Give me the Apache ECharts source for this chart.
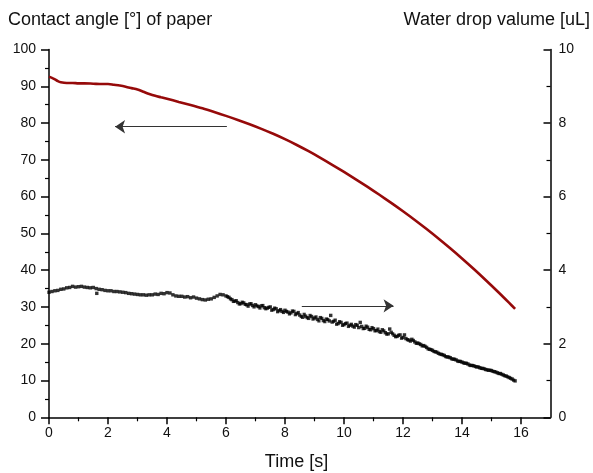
<!DOCTYPE html>
<html>
<head>
<meta charset="utf-8">
<script src="https://cdn.jsdelivr.net/npm/echarts@6/dist/echarts.min.js"></script>
<style>
html,body{margin:0;padding:0;background:#fff;}
#chart{width:593px;height:473px;}
</style>
</head>
<body>
<div id="chart"></div>
<script>
// ---- data ----
const leftTitle = 'Contact angle [°] of paper';
const rightTitle = 'Water drop valume [uL]';
const xTitle = 'Time [s]';
const xMajorLabels = [0, 2, 4, 6, 8, 10, 12, 14, 16];
const xMinorTicks = [1, 3, 5, 7, 9, 11, 13, 15];

// contact angle (left axis) [time s, angle deg]
const contactAngle = [
  [0,92.6],[0.1,92.3],[0.2,91.9],[0.3,91.4],[0.4,91.1],[0.6,90.9],[0.8,90.9],[1.0,90.8],
  [1.2,90.8],[1.5,90.7],[1.8,90.6],[2.0,90.6],[2.2,90.4],[2.4,90.2],[2.6,89.9],[2.8,89.5],
  [3.0,89.1],[3.2,88.5],[3.4,87.9],[3.6,87.4],[3.8,87.0],[4.0,86.6],[4.4,85.75],[4.8,84.9],
  [5.2,84.0],[5.6,83.0],[6.0,81.95],[6.4,80.85],[6.8,79.68],[7.2,78.43],[7.6,77.08],[8.0,75.62],
  [8.4,74.04],[8.8,72.34],[9.2,70.54],[9.6,68.66],[10.0,66.71],[10.4,64.70],[10.8,62.63],[11.2,60.50],
  [11.6,58.30],[12.0,56.02],[12.4,53.65],[12.8,51.18],[13.2,48.61],[13.6,45.94],[14.0,43.17],[14.4,40.30],
  [14.8,37.33],[15.2,34.26],[15.6,31.09],[15.8,29.47]
];

// water drop volume (right axis) [time s, volume uL]
const dropVolume = [
  [0.0,3.40],[0.1,3.42],[0.2,3.44],[0.3,3.45],[0.4,3.48],[0.5,3.49],[0.6,3.52],[0.7,3.53],
  [0.8,3.56],[0.9,3.54],[1.0,3.55],[1.1,3.56],[1.2,3.54],[1.3,3.53],[1.4,3.52],[1.5,3.53],
  [1.6,3.50],[1.62,3.37],[1.7,3.48],[1.8,3.47],[1.9,3.45],[2.0,3.44],[2.1,3.44],[2.2,3.42],
  [2.3,3.42],[2.4,3.41],[2.5,3.40],[2.6,3.39],[2.7,3.37],[2.8,3.36],[2.9,3.35],[3.0,3.34],
  [3.1,3.33],[3.2,3.33],[3.3,3.32],[3.4,3.33],[3.5,3.33],[3.6,3.35],[3.7,3.34],[3.8,3.37],
  [3.9,3.36],[4.0,3.39],[4.1,3.38],[4.2,3.33],[4.3,3.30],[4.4,3.29],[4.5,3.29],[4.6,3.27],
  [4.7,3.28],[4.8,3.25],[4.9,3.27],[5.0,3.24],[5.1,3.22],[5.2,3.20],[5.3,3.19],[5.4,3.21],
  [5.5,3.22],[5.6,3.26],[5.7,3.30],[5.8,3.34],[5.9,3.33],[6.0,3.30],[6.1,3.26],[6.2,3.20],
  [6.3,3.16],[6.4,3.12],[6.5,3.09],[6.6,3.11],[6.7,3.06],[6.8,3.08],[6.9,3.04],[7.0,3.06],
  [7.1,3.01],[7.2,3.03],[7.3,2.98],[7.4,2.97],[7.5,3.00],[7.6,2.93],[7.7,2.95],[7.8,2.90],
  [7.9,2.88],[8.0,2.91],[8.1,2.86],[8.2,2.84],[8.3,2.88],[8.4,2.82],[8.5,2.78],[8.6,2.72],
  [8.7,2.75],[8.8,2.69],[8.9,2.74],[9.0,2.70],[9.1,2.66],[9.2,2.71],[9.3,2.63],[9.4,2.67],
  [9.5,2.62],[9.55,2.77],[9.6,2.59],[9.7,2.64],[9.8,2.55],[9.9,2.58],[10.0,2.52],[10.1,2.56],
  [10.2,2.50],[10.3,2.48],[10.4,2.52],[10.5,2.44],[10.55,2.58],[10.6,2.47],[10.7,2.42],[10.8,2.45],
  [10.9,2.38],[11.0,2.41],[11.1,2.36],[11.2,2.33],[11.3,2.38],[11.4,2.30],[11.5,2.27],[11.55,2.40],
  [11.6,2.31],[11.7,2.23],[11.8,2.20],[11.9,2.24],[12.0,2.17],[12.05,2.24],[12.1,2.14],[12.2,2.10],
  [12.3,2.12],[12.4,2.05],[12.5,2.02],[12.6,1.98],[12.7,1.95],[12.8,1.90],[12.9,1.85],[13.0,1.82],
  [13.1,1.78],[13.2,1.74],[13.3,1.71],[13.4,1.68],[13.5,1.64],[13.6,1.62],[13.7,1.58],[13.8,1.56],
  [13.9,1.52],[14.0,1.50],[14.1,1.47],[14.2,1.45],[14.3,1.41],[14.4,1.40],[14.5,1.37],[14.6,1.35],
  [14.7,1.33],[14.8,1.30],[14.9,1.28],[15.0,1.27],[15.1,1.24],[15.2,1.21],[15.3,1.19],[15.4,1.15],
  [15.5,1.12],[15.6,1.08],[15.7,1.04],[15.8,0.99]
];
// additional interleaved readings of the scattered band
const dropVolumeExtra = [
  [6.05,3.28],[6.15,3.22],[6.25,3.15],[6.35,3.17],[6.45,3.08],[6.55,3.13],[6.65,3.07],[6.75,3.02],
  [6.85,3.09],[6.95,3.00],[7.05,3.03],[7.15,2.97],[7.25,3.04],[7.35,2.95],[7.45,2.99],[7.55,2.91],
  [7.65,2.97],[7.75,2.87],[7.85,2.93],[7.95,2.85],[8.05,2.88],[8.15,2.81],[8.25,2.89],[8.35,2.79],
  [8.45,2.85],[8.55,2.74],[8.65,2.80],[8.75,2.71],[8.85,2.77],[8.95,2.67],[9.05,2.73],[9.15,2.62],
  [9.25,2.69],[9.35,2.60],[9.45,2.66],[9.65,2.61],[9.75,2.53],[9.85,2.60],[9.95,2.50],[10.05,2.55],
  [10.15,2.47],[10.25,2.53],[10.35,2.45],[10.45,2.50],[10.65,2.41],[10.75,2.48],[10.85,2.39],[10.95,2.44],
  [11.05,2.35],[11.15,2.40],[11.25,2.31],[11.35,2.35],[11.45,2.26],[11.65,2.27],[11.75,2.19],[11.85,2.23],
  [11.95,2.15],[12.15,2.11],[12.25,2.07],[12.35,2.09],[12.45,2.01],[12.55,2.00],[12.65,1.94],[12.75,1.93],
  [12.85,1.86],[12.95,1.84],[13.05,1.79],[13.15,1.77],[13.25,1.72],[13.35,1.70],[13.45,1.65],[13.55,1.64],
  [13.65,1.59],[13.75,1.58],[13.85,1.53],[13.95,1.52],[14.05,1.48],[14.15,1.47],[14.25,1.42],[14.35,1.41],
  [14.45,1.38],[14.55,1.37],[14.65,1.33],[14.75,1.32],[14.85,1.29],[14.95,1.28],[15.05,1.25],[15.15,1.23],
  [15.25,1.19],[15.35,1.17],[15.45,1.13],[15.55,1.10],[15.65,1.06],[15.75,1.01]
];

// annotation arrows: [from, to] in data coords
const leftArrow = [[6.03, 79.0], [2.24, 79.0]];   // left axis units
const rightArrow = [[8.57, 3.03], [11.68, 3.03]]; // right axis units

// ---- chart ----
const FONT = '"Liberation Sans", Arial, Helvetica, sans-serif';
const TXT = '#111';
const chart = echarts.init(document.getElementById('chart'), null, {renderer: 'canvas'});

const axisLineStyle = {color: '#000', width: 1.5};

chart.setOption({
  animation: false,
  backgroundColor: '#fff',
  grid: {left: 49, right: 42.5, top: 49.5, bottom: 55.7, containLabel: false, outerBoundsMode: 'none'},
  xAxis: [
    {
      type: 'value', min: 0, max: 17, interval: 1, position: 'bottom',
      axisLine: {show: true, onZero: false, lineStyle: axisLineStyle},
      axisTick: {show: true, length: 7, lineStyle: {color: '#000', width: 1.5}, customValues: xMajorLabels},
      axisLabel: {show: true, margin: 9, fontSize: 14, color: TXT, fontFamily: FONT, customValues: xMajorLabels},
      splitLine: {show: false}
    },
    {
      type: 'value', min: 0, max: 17, interval: 1, position: 'bottom',
      axisLine: {show: false, onZero: false},
      axisTick: {show: true, length: 4, lineStyle: {color: '#000', width: 1.2}, customValues: xMinorTicks},
      axisLabel: {show: false},
      splitLine: {show: false}
    }
  ],
  yAxis: [
    {
      type: 'value', min: 0, max: 100, interval: 10, position: 'left',
      axisLine: {show: true, onZero: false, lineStyle: axisLineStyle},
      axisTick: {show: true, length: 8, lineStyle: {color: '#000', width: 1.5}},
      minorTick: {show: true, splitNumber: 2, length: 4, lineStyle: {color: '#000', width: 1.2}},
      axisLabel: {margin: 13, fontSize: 14, color: TXT, fontFamily: FONT},
      splitLine: {show: false}
    },
    {
      type: 'value', min: 0, max: 10, interval: 2, position: 'right',
      axisLine: {show: true, onZero: false, lineStyle: axisLineStyle},
      axisTick: {show: true, inside: true, length: 7, lineStyle: {color: '#000', width: 1.5}},
      minorTick: {show: true, splitNumber: 2, length: 4, lineStyle: {color: '#000', width: 1.2}},
      axisLabel: {margin: 8, fontSize: 14, color: TXT, fontFamily: FONT},
      splitLine: {show: false}
    }
  ],
  series: [
    {
      type: 'line', name: 'Contact angle', xAxisIndex: 0, yAxisIndex: 0,
      data: contactAngle, showSymbol: false, smooth: 0.3,
      lineStyle: {color: '#960a0a', width: 2.6},
      itemStyle: {color: '#960a0a'},
      z: 3,
      markLine: {
        silent: true, symbol: ['none', 'arrow'], symbolSize: 10, label: {show: false},
        lineStyle: {color: '#333', width: 1.2, type: 'solid'},
        data: [[{coord: leftArrow[0]}, {coord: leftArrow[1]}]]
      }
    },
    {
      type: 'scatter', name: 'Water drop volume', xAxisIndex: 0, yAxisIndex: 1,
      data: dropVolume, symbol: 'rect', symbolSize: 3.4,
      itemStyle: {color: '#000'},
      z: 3,
      markLine: {
        silent: true, symbol: ['none', 'arrow'], symbolSize: 10, label: {show: false},
        lineStyle: {color: '#333', width: 1.2, type: 'solid'},
        data: [[{coord: rightArrow[0]}, {coord: rightArrow[1]}]]
      }
    },
    {
      type: 'scatter', name: 'Water drop volume (band)', xAxisIndex: 0, yAxisIndex: 1,
      data: dropVolumeExtra, symbol: 'rect', symbolSize: 3.2,
      itemStyle: {color: '#000'},
      z: 3
    }
  ],
  graphic: [
    {type: 'text', left: 8, top: 11, style: {text: leftTitle, fontSize: 18, fill: TXT, fontFamily: FONT}},
    {type: 'text', right: 3, top: 11, style: {text: rightTitle, fontSize: 18, fill: TXT, fontFamily: FONT}},
    {type: 'text', left: 'center', top: 453, style: {text: xTitle, fontSize: 18, fill: TXT, fontFamily: FONT}}
  ]
});
</script>
</body>
</html>
